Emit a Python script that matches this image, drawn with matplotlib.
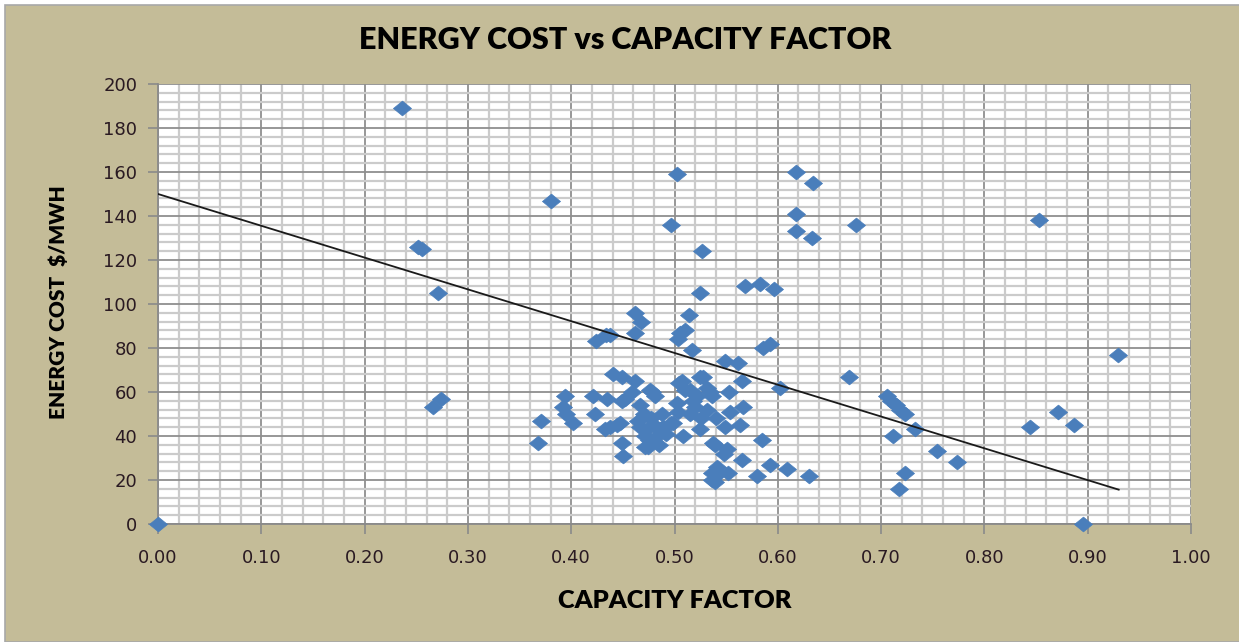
import matplotlib
matplotlib.use("Agg")
import matplotlib.pyplot as plt
from matplotlib.patches import Rectangle
from matplotlib.ticker import MultipleLocator, FormatStrFormatter
import numpy as np

# Capacity factor (fraction) and energy cost ($/MWh) for each plant
capacity_factor = [
    0.000, 0.236, 0.252, 0.256, 0.271, 0.266, 0.274, 0.380, 0.368, 0.371,
    0.394, 0.392, 0.395, 0.402, 0.421, 0.423, 0.424, 0.434, 0.438,
    0.435, 0.438, 0.433, 0.447, 0.444, 0.449, 0.450, 0.440, 0.449, 0.449, 0.452,
    0.462, 0.468, 0.462,
    0.462, 0.459, 0.467, 0.470, 0.467, 0.471, 0.471, 0.474, 0.473, 0.476,
    0.478, 0.465, 0.475, 0.480, 0.483, 0.486, 0.477, 0.481, 0.489, 0.492,
    0.485, 0.488,
    0.497, 0.502, 0.503, 0.505, 0.510,
    0.499, 0.497, 0.508, 0.503, 0.504, 0.507, 0.502, 0.510,
    0.514, 0.517,
    0.515, 0.518, 0.515, 0.520, 0.522, 0.526, 0.525, 0.528, 0.525,
    0.527, 0.525,
    0.531, 0.531, 0.534, 0.536, 0.540, 0.537, 0.539, 0.536, 0.539, 0.541,
    0.543, 0.536,
    0.549, 0.561,
    0.553, 0.554, 0.549, 0.551, 0.548, 0.552,
    0.565, 0.566, 0.563, 0.565,
    0.568, 0.583, 0.596, 0.586, 0.592,
    0.585, 0.580, 0.592, 0.602, 0.609,
    0.618, 0.634, 0.618, 0.618, 0.633, 0.630,
    0.669, 0.676,
    0.706, 0.710, 0.714, 0.718, 0.723,
    0.733, 0.712, 0.723, 0.717,
    0.754, 0.773,
    0.844, 0.871, 0.887, 0.853, 0.895, 0.929,
]
energy_cost = [
    0, 189, 126, 125, 105, 53, 57, 147, 37, 47,
    58, 53, 50, 46, 58, 50, 83, 86, 86,
    57, 44, 43, 46, 45, 37, 31, 68, 67, 56, 57,
    96, 92, 87,
    65, 60, 54, 50, 44, 40, 35, 35, 43, 61,
    60, 47, 38, 45, 40, 43, 48, 58, 44, 41,
    36, 50,
    136, 159, 84, 87, 88,
    46, 46, 40, 51, 64, 65, 55, 61,
    95, 79,
    61, 56, 50, 53, 58, 48, 43, 67, 67,
    124, 105,
    62, 52, 60, 58, 48, 37, 36, 20, 19, 26,
    23, 23,
    74, 73,
    60, 51, 44, 34, 32, 23,
    65, 53, 45, 29,
    108, 109, 107, 80, 82,
    38, 22, 27, 62, 25,
    160, 155, 141, 133, 130, 22,
    67, 136,
    58, 56, 54, 52, 50,
    43, 40, 23, 16,
    33, 28,
    44, 51, 45, 138, 0, 77,
]

# Linear trend line: cost = intercept + slope * capacity factor
trend_intercept = 150.0
trend_slope = -144.5
trend_range = [0.0, 0.93]

x_ticks = [0.0, 0.1, 0.2, 0.3, 0.4, 0.5, 0.6, 0.7, 0.8, 0.9, 1.0]
y_ticks = [0, 20, 40, 60, 80, 100, 120, 140, 160, 180, 200]

W, H, DPI = 1239, 642, 100
fig = plt.figure(figsize=(W / DPI, H / DPI), dpi=DPI)
fig.patch.set_facecolor("white")

# Tan chart area with a thin grey frame, kept behind the axes
frame = Rectangle((5 / W, 0), 1 - 5 / W + 0.01, 1 - 5 / H,
                  transform=fig.transFigure, facecolor="#C4BC98",
                  edgecolor="#A8A8A8", linewidth=1.2, zorder=-10)
fig.patches.append(frame)

ax = fig.add_axes([158 / W, 1 - 524 / H, (1191 - 158) / W, (524 - 84) / H])
ax.set_zorder(1)
ax.set_facecolor("white")
ax.set_xlim(0, 1.0)
ax.set_ylim(0, 200)

ax.xaxis.set_minor_locator(MultipleLocator(0.02))
ax.yaxis.set_minor_locator(MultipleLocator(4))
ax.set_xticks(x_ticks)
ax.set_yticks(y_ticks)
ax.xaxis.set_major_formatter(FormatStrFormatter("%.2f"))

ax.grid(which="minor", color="#CBCBCB", linewidth=1.6, zorder=0)
ax.grid(which="major", color="#8F8F8F", linewidth=1.3, zorder=0)
ax.set_axisbelow(True)

for side in ("top", "right"):
    ax.spines[side].set_visible(False)
for side in ("left", "bottom"):
    ax.spines[side].set_color("#8A8A8A")
    ax.spines[side].set_linewidth(1.3)

ax.tick_params(which="major", direction="out", length=7, width=1.2,
               color="#8A8A8A", labelsize=13, labelcolor="#2a1a22")
ax.tick_params(which="minor", length=0)
ax.tick_params(axis="x", pad=11)
ax.tick_params(axis="y", pad=8)

diamond = [(-1, 0), (0, 0.82), (1, 0), (0, -0.82), (-1, 0)]
ax.plot(capacity_factor, energy_cost, linestyle="none", marker=diamond,
        markersize=13, markerfacecolor="#4A7EBB", markeredgecolor="#4A7EBB",
        markeredgewidth=0.5, clip_on=False, zorder=3)

tx = np.array(trend_range)
ax.plot(tx, trend_intercept + trend_slope * tx, color="#1a1a1a",
        linewidth=1.3, zorder=4)

fig.text(625 / W, 1 - 40 / H, "ENERGY COST vs CAPACITY FACTOR",
         ha="center", va="center", fontsize=22, fontweight="heavy",
         family="Lato", color="black")
fig.text(675 / W, 1 - 601 / H, "CAPACITY FACTOR", ha="center", va="center",
         fontsize=18.3, fontweight="heavy", family="Lato", color="black")
fig.text(58 / W, 1 - 302 / H, "ENERGY COST  $/MWH", ha="center", va="center",
         rotation=90, fontsize=15, fontweight="heavy", family="Lato",
         color="black")

fig.savefig("out.png", dpi=DPI, facecolor=fig.get_facecolor())
